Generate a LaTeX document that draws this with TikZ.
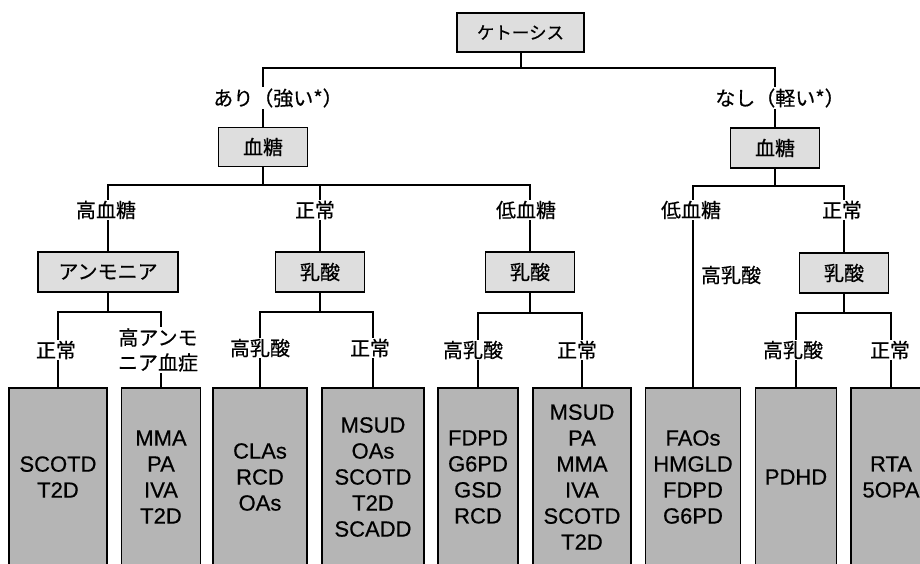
\documentclass[tikz,border=0pt]{standalone}
\usepackage{fontspec}
\setmainfont{Liberation Sans}[FakeBold=0.5]
\newfontfamily\jp{Noto Sans CJK JP}[FakeBold=0.5]
\begin{document}
\begin{tikzpicture}[x=1pt,y=-1pt,
  conn/.style={line width=1.6pt},
  sbox/.style={draw, line width=1.3pt, fill=black!13, font=\jp\fontsize{20}{24}\selectfont, minimum height=39pt, inner sep=0pt},
  dbox/.style={draw, line width=1.3pt, fill=black!29, font=\fontsize{22}{26}\selectfont, align=center, minimum height=178pt, inner sep=0pt},
  lab/.style={fill=white, inner sep=1pt, font=\jp\fontsize{20}{25}\selectfont, align=center}]
\useasboundingbox (0,0) rectangle (920,564);
\fill[white] (0,0) rectangle (920,564);
% decision boxes
\node[sbox, minimum width=127pt, font=\jp\fontsize{17.5}{20}\selectfont] (ket) at (520.5,32.5) {ケトーシス};
\node[sbox, minimum width=89pt] (bl) at (263,147) {血糖};
\node[sbox, minimum width=89pt, minimum height=40pt] (br) at (775,148) {血糖};
\node[sbox, minimum width=140pt, minimum height=40pt] (amm) at (108,272) {アンモニア};
\node[sbox, minimum width=89pt, minimum height=40pt] (lacM) at (320,272) {乳酸};
\node[sbox, minimum width=89pt, minimum height=40pt] (lacL) at (530,272) {乳酸};
\node[sbox, minimum width=89pt, minimum height=40pt] (lacR) at (844,273) {乳酸};
% result boxes
\node[dbox, minimum width=98pt] (d1) at (58,477) {SCOTD\\T2D};
\node[dbox, minimum width=79pt] (d2) at (161,477) {MMA\\PA\\IVA\\T2D};
\node[dbox, minimum width=94pt] (d3) at (260,477) {CLAs\\RCD\\OAs};
\node[dbox, minimum width=102pt] (d4) at (373,477) {MSUD\\OAs\\SCOTD\\T2D\\SCADD};
\node[dbox, minimum width=80pt] (d5) at (478,477) {FDPD\\G6PD\\GSD\\RCD};
\node[dbox, minimum width=98pt] (d6) at (582,477) {MSUD\\PA\\MMA\\IVA\\SCOTD\\T2D};
\node[dbox, minimum width=95pt] (d7) at (693,477) {FAOs\\HMGLD\\FDPD\\G6PD};
\node[dbox, minimum width=81pt] (d8) at (796,477) {PDHD};
\node[dbox, minimum width=80pt] (d9) at (891,477) {RTA\\5OPA};
% bus junctions
\coordinate (b1) at (521,68);
\coordinate (b2) at (263,185);
\coordinate (b3) at (775,186);
\coordinate (c1) at (108,312);
\coordinate (c2) at (320,312);
\coordinate (c3) at (530,313);
\coordinate (c4) at (844,313);
% connectors
\draw[conn] (ket.south -| b1) -- (b1);
\draw[conn] (bl.north) |- (b1) -| (br.north);
\draw[conn] (bl.south) -- (b2);
\draw[conn] (amm.north) |- (b2) -| (lacL.north);
\draw[conn] (lacM.north) -- (lacM.north |- b2);
\draw[conn] (br.south) -- (b3);
\draw[conn] (d7.north) |- (b3) -| (lacR.north);
\draw[conn] (amm.south) -- (c1);
\draw[conn] (d1.north) |- (c1) -| (d2.north);
\draw[conn] (lacM.south) -- (c2);
\draw[conn] (d3.north) |- (c2) -| (d4.north);
\draw[conn] (lacL.south) -- (c3);
\draw[conn] (d5.north) |- (c3) -| (d6.north);
\draw[conn] (lacR.south) -- (c4);
\draw[conn] (d8.north) |- (c4) -| (d9.north);
% branch labels
\node[lab] (l1) at (278,98) {あり（強い*）};
\node[lab] (l2) at (780,98) {なし（軽い*）};
\node[lab] (l3) at (106,210) {高血糖};
\node[lab] (l4) at (315,210) {正常};
\node[lab] (l5) at (526,210) {低血糖};
\node[lab] (l6) at (691,210) {低血糖};
\node[lab] (l7) at (842,210) {正常};
\node[lab] (l8) at (731,275) {高乳酸};
\node[lab] (l9) at (56,350) {正常};
\node[lab] (l10) at (158,350) {高アンモ\\ニア血症};
\node[lab] (l11) at (260,348) {高乳酸};
\node[lab] (l12) at (370,348) {正常};
\node[lab] (l13) at (473,350) {高乳酸};
\node[lab] (l14) at (577,350) {正常};
\node[lab] (l15) at (793,350) {高乳酸};
\node[lab] (l16) at (890,350) {正常};
\end{tikzpicture}
\end{document}
